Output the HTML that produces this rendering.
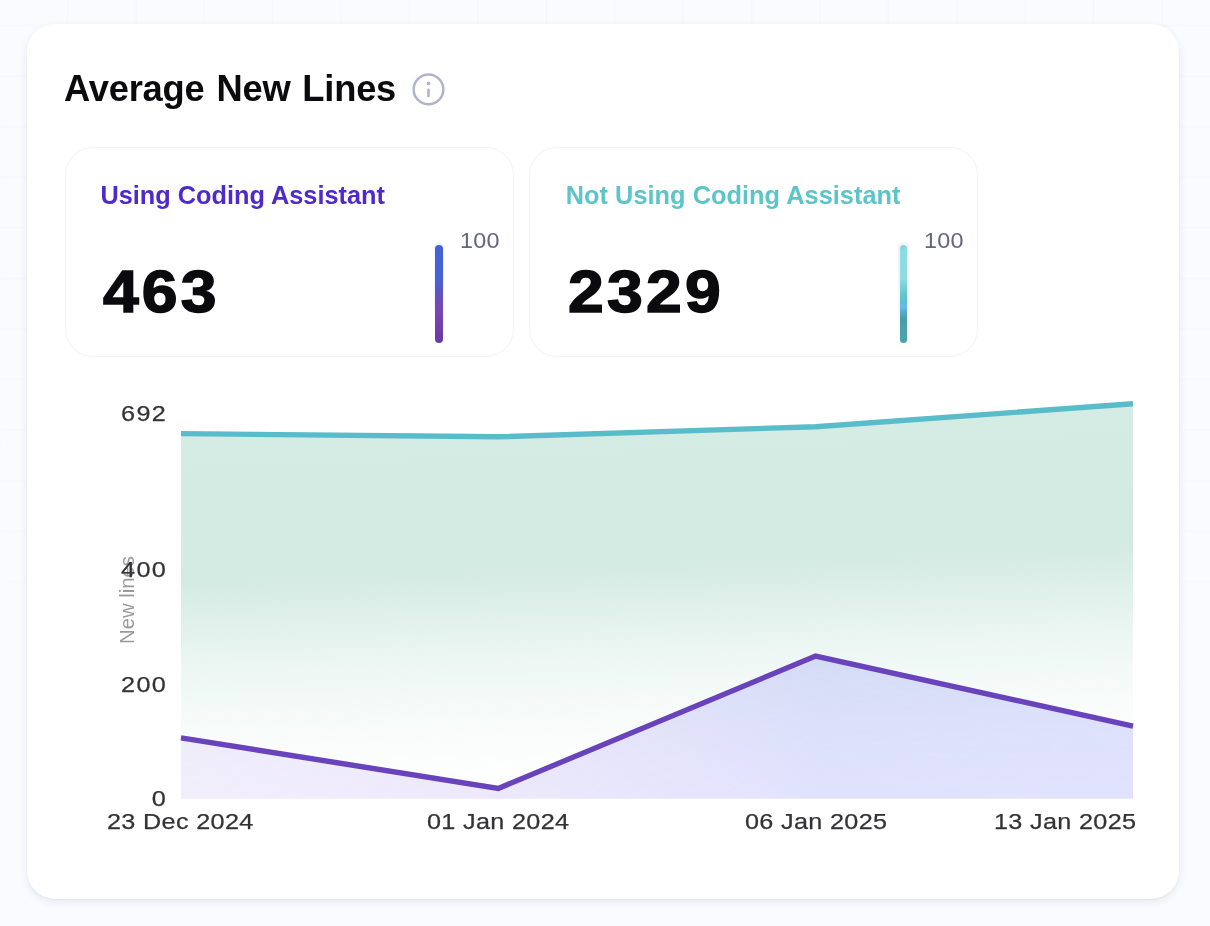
<!DOCTYPE html>
<html lang="en">
<head>
<meta charset="utf-8">
<title>Average New Lines</title>
<style>
  * { box-sizing: border-box; margin: 0; padding: 0; }
  html, body {
    width: 1210px; height: 926px; overflow: hidden;
    background: #fafbfe;
    font-family: "Liberation Sans", sans-serif;
  }
  body { position: relative; }
  #root { position: absolute; left: 0; top: 0; width: 1210px; height: 926px; will-change: transform; }

  /* faint background grid that fades out toward the bottom */
  .grid {
    position: absolute; left: 0; top: 0; width: 1210px; height: 926px;
    background-image:
      linear-gradient(to right, #f7f8fc 2px, transparent 2px),
      linear-gradient(to bottom, #f7f8fc 2px, transparent 2px);
    background-size: 68.4px 50.55px, 68.4px 50.55px;
    background-position: -1.7px 0, 0 -25.9px;
    -webkit-mask-image: linear-gradient(to bottom, #000 0%, #000 30%, transparent 75%);
            mask-image: linear-gradient(to bottom, #000 0%, #000 30%, transparent 75%);
  }

  .card {
    position: absolute; left: 27px; top: 24px; width: 1152px; height: 875px;
    background: #ffffff; border-radius: 28px;
    box-shadow: 0 3px 8px rgba(35, 45, 105, 0.085), 0 1px 2px rgba(35, 45, 105, 0.05);
  }

  .title {
    position: absolute; left: 64px; top: 68px;
    font-size: 36.3px; line-height: 42px; font-weight: 700; color: #0b0b0d;
    white-space: nowrap; letter-spacing: -0.2px; word-spacing: 2px;
  }
  .info { position: absolute; left: 410px; top: 71px; width: 37px; height: 37px; }

  .stat {
    position: absolute; top: 147px; width: 449px; height: 210px;
    border: 1px solid #f2f2f9; border-radius: 28px; background: #fff; z-index: 0;
  }
  .stat.s1 { left: 64.5px; }
  .stat.s2 { left: 528.5px; }
  .stat .label {
    position: absolute; left: 35px; top: 31.5px;
    font-size: 25.3px; line-height: 30px; font-weight: 700; white-space: nowrap;
  }
  .s1 .label { color: #4e2acd; }
  .stat.s2 .value { left: 38.5px; letter-spacing: 3px; }
  .s2 .label { color: #5dc4ca; left: 36.2px; letter-spacing: 0.05px; }
  .stat .value {
    position: absolute; left: 37.5px; top: 109.3px;
    font-size: 59px; line-height: 70px; font-weight: 700; color: #0b0b0d;
    letter-spacing: 2.8px; white-space: nowrap;
    -webkit-text-stroke: 1.5px #0b0b0d;
    transform: scaleX(1.09); transform-origin: left top;
  }
  .stat .bar {
    position: absolute; top: 96.85px; height: 98.1px; border-radius: 5px;
  }
  .stat .bar::before {
    content: ""; position: absolute; top: -2.75px; bottom: 1px; border-radius: 6px;
    background: linear-gradient(to bottom, #f3f1fa 0%, #f6f4fb 60%, rgba(248,246,252,0) 100%);
    z-index: -1;
  }
  .s1 .bar { left: 369.4px; width: 8.2px;
    background: linear-gradient(to bottom, #4461d8 0%, #4563d6 34%, #5d55c4 48%, #7a46b3 65%, #7340ad 83%, #6a39a6 100%); }
  .s1 .bar::before { left: -0.9px; right: -0.9px; }
  .s2 .bar { left: 370.4px; width: 7.1px;
    background: linear-gradient(to bottom, #80d5dd 0%, #8cdce3 7%, #8edce2 34%, #74cdd4 44%, #5fc4cc 53%, #5cbfd6 59%, #6cb8f0 63.5%, #5aa9cc 68%, #4a9ca6 75.5%, #4ba2ac 88%, #49a3ad 100%); }
  .s2 .bar::before { left: -1.65px; right: -1.65px; }
  .stat .hundred {
    position: absolute; left: 394.3px; top: 79.3px;
    font-size: 22.7px; line-height: 26px; color: #62657d; letter-spacing: 0.2px; white-space: nowrap;
    transform: scaleX(1.03); transform-origin: left top;
  }

  .chart { position: absolute; left: 0; top: 0; width: 1210px; height: 926px; }
  .ylab, .xlab {
    position: absolute; font-size: 22.5px; line-height: 26px; color: #333336; white-space: nowrap;
    letter-spacing: 1.15px; -webkit-text-stroke: 0.25px #333336;
  }
  .ylab { text-align: right; width: 90px; left: 76.6px; transform: scaleX(1.12); transform-origin: right top; }
  .xlab { top: 808.7px; letter-spacing: 0.3px; transform: scaleX(1.12); transform-origin: left top; }
  .ytitle {
    position: absolute; left: 127px; top: 600px; font-size: 20.3px; line-height: 22px; color: #9b9b9d;
    white-space: nowrap; transform: translate(-50%, -50%) rotate(-90deg);
  }
</style>
</head>
<body>
 <div id="root">
  <div class="grid"></div>
  <div class="card"></div>

  <div class="title">Average New Lines</div>
  <svg class="info" viewBox="0 0 37 37" fill="none">
    <circle cx="18.5" cy="18.45" r="14.85" stroke="#b1b3cc" stroke-width="2.5"/>
    <circle cx="18.5" cy="12.3" r="1.85" fill="#b1b3cc"/>
    <line x1="18.5" y1="18.9" x2="18.5" y2="25" stroke="#b1b3cc" stroke-width="2.6" stroke-linecap="round"/>
  </svg>

  <div class="stat s1">
    <div class="label">Using Coding Assistant</div>
    <div class="value">463</div>
    <div class="bar"></div>
    <div class="hundred">100</div>
  </div>
  <div class="stat s2">
    <div class="label">Not Using Coding Assistant</div>
    <div class="value">2329</div>
    <div class="bar"></div>
    <div class="hundred">100</div>
  </div>

  <svg class="chart" viewBox="0 0 1210 926">
    <defs>
      <linearGradient id="gTeal" x1="650" y1="403.8" x2="664.5" y2="798.6" gradientUnits="userSpaceOnUse">
        <stop offset="0" stop-color="#d5ece4" stop-opacity="1"/>
        <stop offset="0.41" stop-color="#d4ebe3" stop-opacity="1"/>
        <stop offset="0.5" stop-color="#d4ebe3" stop-opacity="0.76"/>
        <stop offset="0.6" stop-color="#d4ebe3" stop-opacity="0.5"/>
        <stop offset="0.7" stop-color="#d4ebe3" stop-opacity="0.3"/>
        <stop offset="0.8" stop-color="#d4ebe3" stop-opacity="0.16"/>
        <stop offset="0.9" stop-color="#d4ebe3" stop-opacity="0.06"/>
        <stop offset="1" stop-color="#d4ebe3" stop-opacity="0"/>
      </linearGradient>
      <linearGradient id="gPurple" x1="181" y1="0" x2="1133" y2="0" gradientUnits="userSpaceOnUse">
        <stop offset="0" stop-color="#8c62ee" stop-opacity="0.10"/>
        <stop offset="0.30" stop-color="#8262e4" stop-opacity="0.135"/>
        <stop offset="0.67" stop-color="#5a62f5" stop-opacity="0.185"/>
        <stop offset="1" stop-color="#5a62f5" stop-opacity="0.18"/>
      </linearGradient>
    </defs>
    <path d="M181 433.6 L498.3 436.8 L815.7 426.7 L1133 403.8 L1133 798.8 L181 798.8 Z" fill="url(#gTeal)"/>
    <path d="M181 433.6 L498.3 436.8 L815.7 426.7 L1133 403.8" fill="none" stroke="#59bccb" stroke-width="5.4" stroke-linejoin="miter"/>
    <path d="M181 737.8 L498.3 788.4 L815.6 656.1 L1133 726.1 L1133 798.8 L181 798.8 Z" fill="url(#gPurple)"/>
    <path d="M181 737.8 L498.3 788.4 L815.6 656.1 L1133 726.1" fill="none" stroke="#6843bb" stroke-width="5.4" stroke-linejoin="miter"/>
  </svg>

  <div class="ytitle">New lines</div>
  <div class="ylab" style="top:400.7px">692</div>
  <div class="ylab" style="top:556.7px">400</div>
  <div class="ylab" style="top:672.2px">200</div>
  <div class="ylab" style="top:785.7px">0</div>

  <div class="xlab" style="left:107.4px">23 Dec 2024</div>
  <div class="xlab" style="left:426.5px">01 Jan 2024</div>
  <div class="xlab" style="left:744.5px">06 Jan 2025</div>
  <div class="xlab" style="left:994.4px">13 Jan 2025</div>
 </div>
</body>
</html>
